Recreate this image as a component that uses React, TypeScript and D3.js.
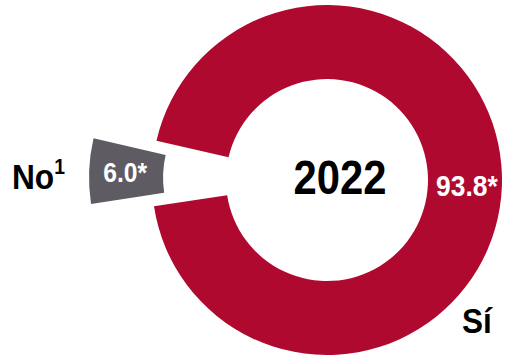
import React from "react";
import * as d3 from "d3";

const categories = ["Sí", "No"];
const values = [93.8, 6.0];
const valueLabels = ["93.8*", "6.0*"];
const yearLabel = "2022";

const W = 512;
const H = 361;
const cx = 327;
const cy = 180;
const outerR = 175;
const innerR = 101;
const explode = 63;
const colors = ["#AF0930", "#5E5B62"];
const FONT = "'Liberation Sans', Arial, sans-serif";

function Label(props: {
  x: number;
  y: number;
  size: number;
  sx: number;
  fill: string;
  anchor?: string;
  children: React.ReactNode;
}) {
  return (
    <g transform={`translate(${props.x},${props.y}) scale(${props.sx},1)`}>
      <text
        x={0}
        y={0}
        textAnchor={props.anchor || "start"}
        fill={props.fill}
        fontWeight="bold"
        fontSize={props.size}
      >
        {props.children}
      </text>
    </g>
  );
}

export default function App() {
  const start = (-77 * Math.PI) / 180;
  const pie = d3
    .pie<number>()
    .sort(null)
    .value((d) => d)
    .startAngle(start)
    .endAngle(start + 2 * Math.PI);
  const arcs = pie(values);
  const arc = d3.arc<d3.PieArcDatum<number>>().innerRadius(innerR).outerRadius(outerR);

  return (
    <svg
      width={W}
      height={H}
      style={{ position: "absolute", left: 0, top: 0, background: "#fff" }}
      fontFamily={FONT}
    >
      <g transform={`translate(${cx},${cy})`}>
        {arcs.map((a, i) => {
          const mid = (a.startAngle + a.endAngle) / 2;
          const off = i === 1 ? explode : 0;
          const dx = Math.sin(mid) * off;
          const dy = -Math.cos(mid) * off;
          const [lx, ly] = arc.centroid(a);
          const size = i === 1 ? 28 : 30;
          return (
            <g key={categories[i]} transform={`translate(${dx},${dy})`}>
              <path d={arc(a) || ""} fill={colors[i]} />
              <Label
                x={lx + (i === 1 ? -1 : 2)}
                y={ly + size * 0.36}
                size={size}
                sx={0.88}
                fill="#fff"
                anchor="middle"
              >
                {valueLabels[i]}
              </Label>
            </g>
          );
        })}
        <Label x={13} y={14} size={48} sx={0.87} fill="#000" anchor="middle">
          {yearLabel}
        </Label>
      </g>
      <Label x={12} y={189} size={36} sx={0.88} fill="#000">
        No
        <tspan fontSize={22} dy={-15}>1</tspan>
      </Label>
      <Label x={462} y={333} size={35} sx={0.9} fill="#000">
        {categories[0]}
      </Label>
    </svg>
  );
}
